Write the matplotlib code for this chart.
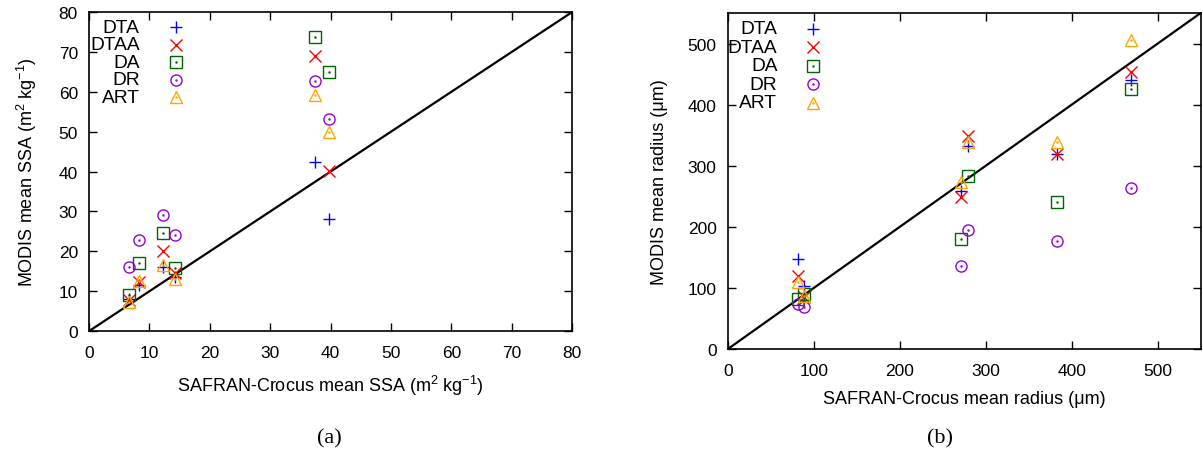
import matplotlib
matplotlib.use("Agg")
import matplotlib.pyplot as plt

plt.rcParams['font.family'] = ['Liberation Sans', 'DejaVu Sans']
plt.rcParams['mathtext.fontset'] = 'custom'
plt.rcParams['mathtext.rm'] = 'Liberation Sans'
plt.rcParams['mathtext.it'] = 'Liberation Sans:italic'

# panel (a): specific surface area
ssa_safran = [6.7, 8.2, 12.3, 14.2, 37.4, 39.7]
ssa_dta = [8.0, 11.5, 16.2, 13.6, 42.4, 28.1]
ssa_dtaa = [7.8, 12.2, 20.1, 14.7, 68.9, 40.2]
ssa_da = [9.1, 17.0, 24.7, 15.8, 73.8, 65.1]
ssa_dr = [16.0, 22.9, 29.2, 24.1, 62.7, 53.3]
ssa_art = [7.3, 12.5, 16.6, 13.0, 59.2, 50.0]

# panel (b): optical radius
rad_safran = [81.8, 88.8, 271.7, 279.5, 382.6, 469.0]
rad_dta = [147.5, 103.8, 258.5, 333.0, 319.7, 440.0]
rad_dtaa = [120.0, 84.7, 248.7, 348.6, 319.7, 453.6]
rad_da = [82.0, 90.0, 180.0, 284.0, 240.5, 425.0]
rad_dr = [73.8, 68.3, 136.6, 195.6, 177.6, 263.4]
rad_art = [109.0, 87.4, 273.0, 338.8, 338.8, 506.6]

labels = ['DTA', 'DTAA', 'DA', 'DR', 'ART']
colors = ['#0000ff', '#ff0000', '#006400', '#9400d3', '#ffa500']
markers = ['+', 'x', 's', 'o', '^']


def draw_points(ax, x, y, i, trans=None):
    kw = {} if trans is None else {'transform': trans, 'clip_on': False}
    if markers[i] in ('+', 'x'):
        ax.plot(x, y, ls='none', marker=markers[i], ms=8, mew=1.0,
                color=colors[i], **kw)
    else:
        ax.plot(x, y, ls='none', marker=markers[i], ms=8, mew=1.0,
                mfc='none', mec=colors[i], **kw)
        ax.plot(x, y, ls='none', marker='.', ms=1.5, color=colors[i], **kw)


def setup(ax, lim, step, series, xs, xlabel, ylabel):
    ax.plot([0, lim[0]], [0, lim[1]], color='black', lw=1.6, zorder=1)
    for i, ys in enumerate(series):
        draw_points(ax, xs, ys, i)
    ax.set_xlim(0, lim[0])
    ax.set_ylim(0, lim[1])
    ax.set_xticks(range(0, lim[0] + 1, step[0]))
    ax.set_yticks(range(0, lim[1] + 1, step[1]))
    ax.tick_params(direction='in', top=True, right=True, length=6,
                   labelsize=12.5, width=1)
    ax.tick_params(axis='x', pad=10)
    ax.tick_params(axis='y', pad=8)
    for s in ax.spines.values():
        s.set_linewidth(1.2)
    ax.set_xlabel(xlabel, fontsize=13, labelpad=9)
    ax.set_ylabel(ylabel, fontsize=13, labelpad=14)
    # gnuplot-style key: labels right aligned, symbol to the right
    for i, lab in enumerate(labels):
        yy = 0.953 - i * 0.055
        ax.text(0.105, yy, lab, transform=ax.transAxes, ha='right',
                va='center', fontsize=13.8)
        draw_points(ax, [0.18], [yy], i, trans=ax.transAxes)


fig = plt.figure(figsize=(12.03, 4.6), dpi=100)
ax1 = fig.add_axes([0.074, 0.278, 0.4015, 0.6935])
ax2 = fig.add_axes([0.605, 0.239, 0.393, 0.7304])

setup(ax1, (80, 80), (10, 10),
      [ssa_dta, ssa_dtaa, ssa_da, ssa_dr, ssa_art], ssa_safran,
      r'SAFRAN-Crocus mean SSA (m$^{2}$ kg$^{-1}$)',
      r'MODIS mean SSA (m$^{2}$ kg$^{-1}$)')
setup(ax2, (550, 550), (100, 100),
      [rad_dta, rad_dtaa, rad_da, rad_dr, rad_art], rad_safran,
      'SAFRAN-Crocus mean radius (\u03bcm)',
      'MODIS mean radius (\u03bcm)')

fig.text(0.2735, 0.046, '(a)', ha='center', va='center',
         family='Liberation Serif', fontsize=16)
fig.text(0.7815, 0.046, '(b)', ha='center', va='center',
         family='Liberation Serif', fontsize=16)

fig.savefig('out.png', dpi=100)
